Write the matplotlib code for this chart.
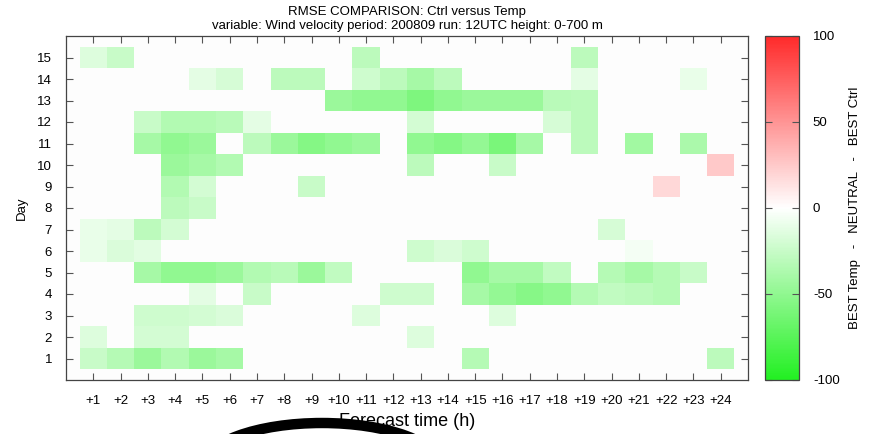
import numpy as np
import matplotlib
matplotlib.use("Agg")
import matplotlib.pyplot as plt
from matplotlib.colors import LinearSegmentedColormap
from matplotlib.patches import Ellipse
from matplotlib.transforms import IdentityTransform

plt.rcParams['font.family'] = ['Liberation Sans', 'DejaVu Sans']
plt.rcParams['axes.unicode_minus'] = False

nan = np.nan
hours = list(range(1, 25))
days = list(range(1, 16))
hour_labels = ['+%d' % h for h in hours]

# RMSE difference per day (rows, day 1..15) and forecast hour (cols, +1..+24)
day01 = [-25, -33, -45, -35, -45, -40, nan, nan, nan, nan, nan, nan, nan, nan, -33, nan, nan, nan, nan, nan, nan, nan, nan, -30]
day02 = [-15, nan, -20, -20, nan, nan, nan, nan, nan, nan, nan, nan, -15, nan, nan, nan, nan, nan, nan, nan, nan, nan, nan, nan]
day03 = [nan, nan, -22, -22, -20, -17, nan, nan, nan, nan, -15, nan, nan, nan, nan, -15, nan, nan, nan, nan, nan, nan, nan, nan]
day04 = [nan, nan, nan, nan, -12, nan, -25, nan, nan, nan, nan, -22, -22, nan, -40, -48, -54, -50, -34, -28, -30, -33, nan, nan]
day05 = [nan, nan, -40, -50, -50, -45, -35, -32, -45, -28, nan, nan, nan, nan, -50, -40, -40, -28, nan, -33, -40, -33, -25, nan]
day06 = [-10, -17, -13, nan, nan, nan, nan, nan, nan, nan, nan, nan, -22, -17, -22, nan, nan, nan, nan, nan, -5, nan, nan, nan]
day07 = [-10, -12, -30, -20, nan, nan, nan, nan, nan, nan, nan, nan, nan, nan, nan, nan, nan, nan, nan, -18, nan, nan, nan, nan]
day08 = [nan, nan, nan, -30, -25, nan, nan, nan, nan, nan, nan, nan, nan, nan, nan, nan, nan, nan, nan, nan, nan, nan, nan, nan]
day09 = [nan, nan, nan, -35, -20, nan, nan, nan, -25, nan, nan, nan, nan, nan, nan, nan, nan, nan, nan, nan, nan, 18, nan, nan]
day10 = [nan, nan, nan, -45, -40, -35, nan, nan, nan, nan, nan, nan, -30, nan, nan, -25, nan, nan, nan, nan, nan, nan, nan, 25]
day11 = [nan, nan, -40, -50, -45, nan, -30, -45, -55, -50, -45, nan, -50, -55, -48, -60, -40, nan, -30, nan, -42, nan, -38, nan]
day12 = [nan, nan, -25, -35, -35, -32, -12, nan, nan, nan, nan, nan, -20, nan, nan, nan, nan, -18, -30, nan, nan, nan, nan, nan]
day13 = [nan, nan, nan, nan, nan, nan, nan, nan, nan, -45, -50, -50, -58, -50, -45, -45, -45, -32, -30, nan, nan, nan, nan, nan]
day14 = [nan, nan, nan, nan, -12, -18, nan, -30, -30, nan, -22, -30, -40, -30, nan, nan, nan, nan, -12, nan, nan, nan, -10, nan]
day15 = [-15, -25, nan, nan, nan, nan, nan, nan, nan, nan, -30, nan, nan, nan, nan, nan, nan, nan, -30, nan, nan, nan, nan, nan]

grid = np.array([day01, day02, day03, day04, day05, day06, day07, day08,
                 day09, day10, day11, day12, day13, day14, day15], dtype=float)

cmap = LinearSegmentedColormap.from_list(
    'gwr', [(0.0, '#22f022'), (0.5, '#ffffff'), (1.0, '#ff2a2a')])

fig = plt.figure(figsize=(8.72, 4.34), dpi=100)
W, H = 872.0, 434.0
ax = fig.add_axes([66 / W, (H - 380) / H, 682 / W, 344 / H])
cax = fig.add_axes([765 / W, (H - 380) / H, 34 / W, 344 / H])

xe = np.arange(0.5, 25, 1.0)
ye = np.arange(0.5, 16, 1.0)
mesh = ax.pcolormesh(xe, ye, np.ma.masked_invalid(grid), cmap=cmap,
                     vmin=-100, vmax=100)
ax.set_facecolor('#fdfdfd')
ax.set_xlim(0, 25)
ax.set_ylim(0, 16)
ax.set_xticks(hours)
ax.set_xticklabels(hour_labels)
ax.set_yticks(days)
ax.tick_params(direction='in', top=True, right=True, length=5, width=0.8,
               color='#555555', labelsize=9.5)
ax.tick_params(axis='x', pad=11)
ax.tick_params(axis='y', pad=10)
for s in ax.spines.values():
    s.set_color('#444444')
    s.set_linewidth(0.9)

cb = fig.colorbar(mesh, cax=cax)
cb.set_ticks([-100, -50, 0, 50, 100])
cax.tick_params(direction='in', left=True, right=True, length=5, width=0.8,
                color='#555555', labelsize=9.5, pad=10)
cb.outline.set_edgecolor('#444444')
cb.outline.set_linewidth(0.9)

fig.text(855 / W, 1 - 208 / H, 'BEST Temp   -   NEUTRAL   -   BEST Ctrl',
         rotation=90, ha='center', va='center', fontsize=9.5)

fig.text(407 / W, 1 - 12 / H, 'RMSE COMPARISON: Ctrl versus Temp',
         ha='center', va='center', fontsize=9.5)
fig.text(407 / W, 1 - 26 / H,
         'variable: Wind velocity period: 200809 run: 12UTC height: 0-700 m',
         ha='center', va='center', fontsize=9.5)
fig.text(407 / W, 1 - 422 / H, 'Forecast time (h)', ha='center', va='center',
         fontsize=13)
fig.text(22 / W, 1 - 208 / H, 'Day', rotation=90, ha='center', va='center',
         fontsize=9.5)

# black arc across the bottom of the image, drawn over the axis label
arc = Ellipse((322, -33), 238, 88, fill=False, edgecolor='black',
              linewidth=7.5, transform=IdentityTransform(), clip_on=False,
              zorder=10)
fig.patches.append(arc)

fig.savefig('out.png', dpi=100, facecolor='white')
